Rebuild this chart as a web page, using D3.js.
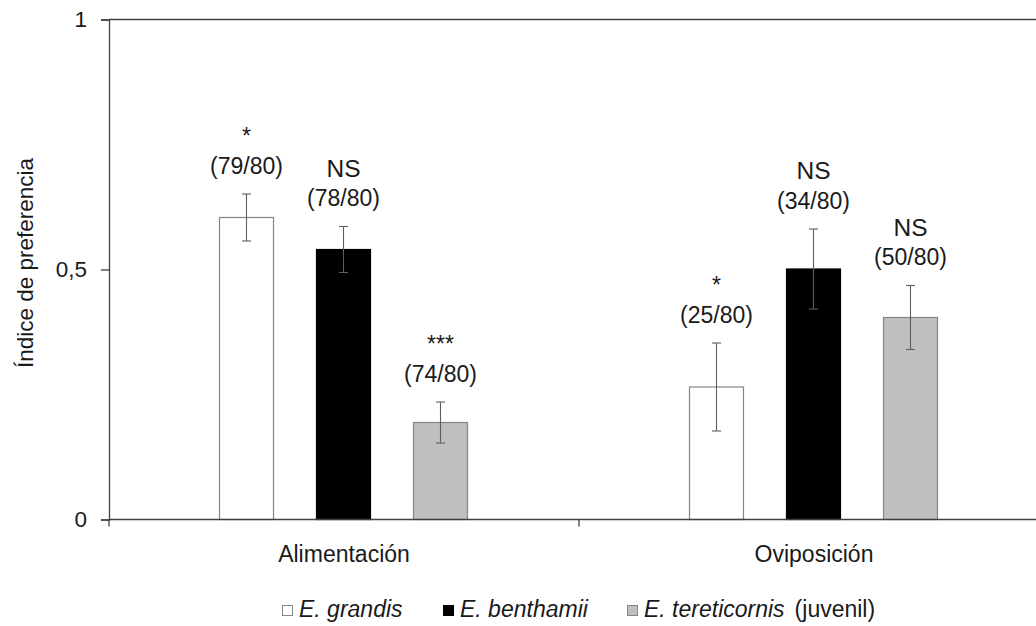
<!DOCTYPE html>
<html>
<head>
<meta charset="utf-8">
<script src="https://cdn.jsdelivr.net/npm/d3@7"></script>
<style>
  html, body { margin: 0; padding: 0; background: #fff; }
  svg { display: block; font-family: "Liberation Sans", Arial, sans-serif; }
</style>
</head>
<body>
<svg id="chart" width="1036" height="626"></svg>
<script>
// Preference index by host plant species, for feeding and oviposition
const categories = ["Alimentación", "Oviposición"];
const species = ["E. grandis", "E. benthamii", "E. tereticornis"];
const grandisValues = [0.604, 0.265];
const benthamiiValues = [0.540, 0.501];
const tereticornisValues = [0.194, 0.404];
const grandisErrors = [0.047, 0.088];
const benthamiiErrors = [0.046, 0.080];
const tereticornisErrors = [0.041, 0.064];
const grandisCounts = ["(79/80)", "(25/80)"];
const benthamiiCounts = ["(78/80)", "(34/80)"];
const tereticornisCounts = ["(74/80)", "(50/80)"];
const grandisSignif = ["*", "*"];
const benthamiiSignif = ["NS", "NS"];
const tereticornisSignif = ["***", "NS"];
const yTicks = [0, 0.5, 1];
const yTickLabels = ["0", "0,5", "1"];

const fills = ["#ffffff", "#000000", "#bfbfbf"];
const strokes = ["#858585", "#000000", "#858585"];

const valuesBySeries = [grandisValues, benthamiiValues, tereticornisValues];
const errorsBySeries = [grandisErrors, benthamiiErrors, tereticornisErrors];
const countsBySeries = [grandisCounts, benthamiiCounts, tereticornisCounts];
const signifBySeries = [grandisSignif, benthamiiSignif, tereticornisSignif];

const rows = [];
categories.forEach((c, ci) => {
  species.forEach((s, si) => {
    rows.push({
      category: c, species: s, si,
      value: valuesBySeries[si][ci],
      err: errorsBySeries[si][ci],
      count: countsBySeries[si][ci],
      signif: signifBySeries[si][ci]
    });
  });
});

const svg = d3.select("#chart");
const plotLeft = 109, plotRight = 1049, plotTop = 19.5, plotBottom = 519.5;
const ink = "#1a1a1a", axisInk = "#404040";

const x = d3.scaleBand().domain(categories).range([plotLeft, plotRight]).padding(0);
const xs = d3.scaleBand().domain(species)
  .range([89, 380]).paddingInner(0.433).paddingOuter(0.2165);
const y = d3.scaleLinear().domain([0, 1]).range([plotBottom, plotTop]);

// top border of the plot area
svg.append("line")
  .attr("x1", plotLeft).attr("x2", plotRight)
  .attr("y1", y(1)).attr("y2", y(1))
  .attr("stroke", axisInk).attr("stroke-width", 1.3);

// bars
svg.append("g").selectAll("rect").data(rows).join("rect")
  .attr("x", d => x(d.category) + xs(d.species) + 0.5)
  .attr("y", d => y(d.value))
  .attr("width", xs.bandwidth() - 1)
  .attr("height", d => y(0) - y(d.value))
  .attr("fill", d => fills[d.si])
  .attr("stroke", d => strokes[d.si])
  .attr("stroke-width", 1.2);

// error bars
const eb = svg.append("g").attr("stroke", "#5e5e5e").attr("stroke-width", 1.1).attr("fill", "none");
rows.forEach(d => {
  const cx = x(d.category) + xs(d.species) + xs.bandwidth() / 2;
  const y1 = y(d.value + d.err), y2 = y(d.value - d.err);
  eb.append("line").attr("x1", cx).attr("x2", cx).attr("y1", y1).attr("y2", y2);
  eb.append("line").attr("x1", cx - 4.5).attr("x2", cx + 4.5).attr("y1", y1).attr("y2", y1);
  eb.append("line").attr("x1", cx - 4.5).attr("x2", cx + 4.5).attr("y1", y2).attr("y2", y2);
});

// sample counts and significance labels above each error bar
const lab = svg.append("g").attr("text-anchor", "middle").attr("fill", ink);
rows.forEach(d => {
  const cx = x(d.category) + xs(d.species) + xs.bandwidth() / 2;
  const base = y(d.value + d.err) - 20.5;
  lab.append("text").attr("x", cx).attr("y", base)
    .attr("font-size", 23).text(d.count);
  lab.append("text").attr("x", cx).attr("y", base - 29.5)
    .attr("font-size", d.signif === "NS" ? 24.5 : 23).text(d.signif);
});

// y axis
const yAxis = svg.append("g").attr("transform", `translate(${plotLeft},0)`)
  .call(d3.axisLeft(y).tickValues(yTicks).tickSize(8)
    .tickFormat((d, i) => yTickLabels[i]));
yAxis.select(".domain").attr("stroke", axisInk).attr("stroke-width", 1.3);
yAxis.selectAll(".tick line").attr("stroke", axisInk).attr("stroke-width", 1.3);
yAxis.selectAll(".tick text").attr("font-size", 22.5).attr("fill", ink)
  .attr("font-family", "Liberation Sans, Arial, sans-serif").attr("x", -22);

// x axis with tick marks at the category boundaries
const xAxisG = svg.append("g").attr("transform", `translate(0,${plotBottom})`);
xAxisG.append("line").attr("x1", plotLeft).attr("x2", plotRight)
  .attr("stroke", axisInk).attr("stroke-width", 1.3);
const bounds = categories.map(c => x(c)).concat([plotRight]);
xAxisG.selectAll(".xt").data(bounds).join("line").attr("class", "xt")
  .attr("x1", d => d).attr("x2", d => d).attr("y1", 0).attr("y2", 7)
  .attr("stroke", axisInk).attr("stroke-width", 1.3);
xAxisG.selectAll(".xl").data(categories).join("text").attr("class", "xl")
  .attr("x", d => x(d) + x.bandwidth() / 2).attr("y", 42.5)
  .attr("text-anchor", "middle").attr("font-size", 23).attr("fill", ink)
  .text(d => d);

// y axis title
svg.append("text")
  .attr("transform", "translate(33,263) rotate(-90)")
  .attr("text-anchor", "middle").attr("font-size", 22.5).attr("fill", ink)
  .text("Índice de preferencia");

// legend
const legendX = [282, 443, 627];
const leg = svg.append("g");
species.forEach((s, i) => {
  const g = leg.append("g").attr("transform", `translate(${legendX[i]},617)`);
  g.append("rect").attr("x", 0.5).attr("y", -11.5).attr("width", 10).attr("height", 10)
    .attr("fill", fills[i]).attr("stroke", strokes[i]).attr("stroke-width", 1);
  const t = g.append("text").attr("x", 17).attr("y", 0).attr("font-size", 23).attr("fill", ink);
  t.append("tspan").attr("font-style", "italic").text(s);
  if (i === 2) t.append("tspan").attr("dx", 10).text("(juvenil)");
});
</script>
</body>
</html>
